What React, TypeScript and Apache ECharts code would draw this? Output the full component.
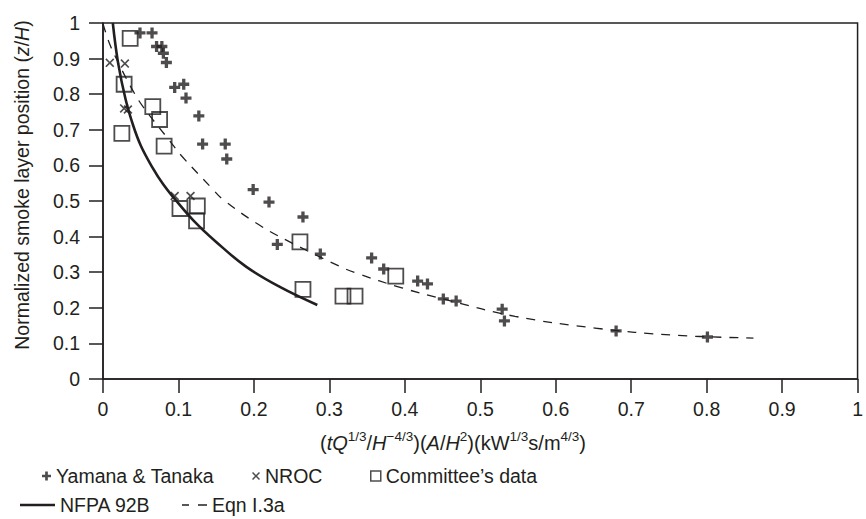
import React, { useEffect, useRef } from "react";
import * as echarts from "echarts";

const xTicks = [0, 0.1, 0.2, 0.3, 0.4, 0.5, 0.6, 0.7, 0.8, 0.9, 1];
const yTicks = [0, 0.1, 0.2, 0.3, 0.4, 0.5, 0.6, 0.7, 0.8, 0.9, 1];

const yamanaTanaka: [number, number][] = [
  [0.049, 0.972], [0.065, 0.972], [0.071, 0.934], [0.078, 0.934], [0.08, 0.915],
  [0.084, 0.889], [0.095, 0.819], [0.107, 0.828], [0.11, 0.789], [0.127, 0.739],
  [0.132, 0.66], [0.162, 0.66], [0.164, 0.618], [0.199, 0.532], [0.22, 0.497],
  [0.265, 0.455], [0.231, 0.378], [0.288, 0.351], [0.356, 0.34], [0.372, 0.309],
  [0.417, 0.275], [0.43, 0.267], [0.451, 0.225], [0.468, 0.219], [0.529, 0.196],
  [0.532, 0.163], [0.68, 0.135], [0.801, 0.118],
];

const nroc: [number, number][] = [
  [0.009, 0.888], [0.029, 0.886], [0.028, 0.76], [0.033, 0.757],
  [0.095, 0.514], [0.116, 0.514],
];

const committee: [number, number][] = [
  [0.036, 0.957], [0.028, 0.828], [0.025, 0.69], [0.066, 0.765], [0.075, 0.729],
  [0.081, 0.654], [0.102, 0.479], [0.125, 0.486], [0.124, 0.444], [0.261, 0.385],
  [0.265, 0.252], [0.318, 0.233], [0.334, 0.233], [0.388, 0.289],
];

const nfpa92B: [number, number][] = [
  [0.013, 1.0], [0.02, 0.888], [0.03, 0.785], [0.04, 0.712], [0.05, 0.656],
  [0.065, 0.596], [0.08, 0.546], [0.095, 0.506], [0.12, 0.445], [0.15, 0.385],
  [0.19, 0.315], [0.235, 0.258], [0.284, 0.208],
];

const eqnI3a: [number, number][] = [
  [0.0, 0.998], [0.009, 0.94], [0.02, 0.89], [0.037, 0.82], [0.053, 0.765],
  [0.088, 0.67], [0.104, 0.627], [0.146, 0.532], [0.158, 0.506], [0.203, 0.438],
  [0.243, 0.39], [0.313, 0.317], [0.335, 0.298], [0.396, 0.256], [0.458, 0.221],
  [0.546, 0.176], [0.652, 0.143], [0.757, 0.123], [0.862, 0.115],
];

const INK = "#231f20";
const FONT = "'Liberation Sans', Arial, Helvetica, sans-serif";

const plusPath = "path://M3.5,0H6.5V3.5H10V6.5H6.5V10H3.5V6.5H0V3.5H3.5Z";
const crossPath =
  "path://M0,1.3L1.3,0L5,3.7L8.7,0L10,1.3L6.3,5L10,8.7L8.7,10L5,6.3L1.3,10L0,8.7L3.7,5Z";
const solidIcon = "path://M0,0H35V2.6H0Z";
const dashIcon = "path://M0,0H7V1.4H0ZM16,0H25V1.4H16Z";

export default function App() {
  const ref = useRef<HTMLDivElement>(null);

  useEffect(() => {
    if (!ref.current) return;
    const chart = echarts.init(ref.current, undefined, { renderer: "svg" });

    const legendText = { color: INK, fontSize: 19.5, fontFamily: FONT };
    const mkLegend = (name: string, left: number, top: number, extra: any) => ({
      show: true,
      data: [name],
      left,
      top,
      padding: 0,
      orient: "horizontal",
      selectedMode: false,
      itemGap: 0,
      textStyle: legendText,
      ...extra,
    });

    const option: any = {
      animation: false,
      backgroundColor: "#ffffff",
      textStyle: { fontFamily: FONT },
      grid: {
        left: 103,
        right: 5,
        top: 23,
        bottom: 140,
        show: true,
        borderColor: INK,
        borderWidth: 1.5,
        backgroundColor: "transparent",
      },
      xAxis: {
        type: "value",
        min: xTicks[0],
        max: xTicks[xTicks.length - 1],
        interval: 0.1,
        splitLine: { show: false },
        axisLine: { show: true, lineStyle: { color: INK, width: 1.5 } },
        axisTick: { show: true, inside: false, length: 14, lineStyle: { color: INK, width: 1.5 } },
        axisLabel: {
          color: INK,
          fontSize: 19.5,
          fontFamily: FONT,
          margin: 20,
          formatter: (v: number) => String(Math.round(v * 10) / 10),
        },
      },
      yAxis: {
        type: "value",
        min: yTicks[0],
        max: yTicks[yTicks.length - 1],
        interval: 0.1,
        splitLine: { show: false },
        axisLine: { show: true, lineStyle: { color: INK, width: 1.5 } },
        axisTick: { show: true, inside: false, length: 14, lineStyle: { color: INK, width: 1.5 } },
        axisLabel: {
          color: INK,
          fontSize: 19.5,
          fontFamily: FONT,
          margin: 23,
          formatter: (v: number) => String(Math.round(v * 10) / 10),
        },
      },
      legend: [
        mkLegend("Yamana & Tanaka", 42, 466, { itemWidth: 9, itemHeight: 9, icon: plusPath }),
        mkLegend("NROC", 252, 466, { itemWidth: 8, itemHeight: 8, icon: crossPath }),
        mkLegend("Committee\u2019s data", 370, 466, {
          itemWidth: 10,
          itemHeight: 10,
          icon: "rect",
          itemStyle: { color: "transparent", borderColor: INK, borderWidth: 1.5 },
        }),
        mkLegend("NFPA 92B", 20, 495, {
          itemWidth: 35,
          itemHeight: 2.6,
          icon: solidIcon,
          itemStyle: { color: INK, borderWidth: 0 },
        }),
        mkLegend("Eqn I.3a", 182, 495, {
          itemWidth: 25,
          itemHeight: 1.4,
          icon: dashIcon,
          itemStyle: { color: INK, borderWidth: 0 },
        }),
      ],
      graphic: [
        {
          type: "text",
          x: 22,
          y: 185,
          rotation: Math.PI / 2,
          style: {
            text: "{n|Normalized smoke layer position (}{i|z}{n|/}{i|H}{n|)}",
            align: "center",
            verticalAlign: "middle",
            fill: INK,
            rich: {
              n: { fontSize: 19.5, fontFamily: FONT, fill: INK },
              i: { fontSize: 19.5, fontFamily: FONT, fontStyle: "italic", fill: INK },
            },
          },
        },
        {
          type: "text",
          x: 453,
          y: 441,
          style: {
            text:
              "{n|(}{i|tQ}{s|1/3}{n|/}{i|H}{s|\u22124/3}{n|)(}{i|A}{n|/}{i|H}{s|2}{n|)(kW}{s|1/3}{n|s/m}{s|4/3}{n|)}",
            align: "center",
            verticalAlign: "middle",
            fill: INK,
            rich: {
              n: { fontSize: 20, fontFamily: FONT, fill: INK, lineHeight: 23, verticalAlign: "bottom" },
              i: {
                fontSize: 20,
                fontFamily: FONT,
                fontStyle: "italic",
                fill: INK,
                lineHeight: 23,
                verticalAlign: "bottom",
              },
              s: { fontSize: 13.5, fontFamily: FONT, fill: INK, lineHeight: 23, verticalAlign: "top" },
            },
          },
        },
      ],
      series: [
        {
          name: "NFPA 92B",
          type: "line",
          data: nfpa92B,
          smooth: 0.4,
          symbol: "none",
          lineStyle: { color: INK, width: 2.6, type: "solid" },
          itemStyle: { color: INK },
          z: 2,
        },
        {
          name: "Eqn I.3a",
          type: "line",
          data: eqnI3a,
          smooth: 0.4,
          symbol: "none",
          lineStyle: { color: INK, width: 1.3, type: [9, 8] },
          itemStyle: { color: INK },
          z: 2,
        },
        {
          name: "Yamana & Tanaka",
          type: "scatter",
          data: yamanaTanaka,
          symbol: plusPath,
          symbolSize: 11,
          itemStyle: { color: INK },
          z: 3,
        },
        {
          name: "NROC",
          type: "scatter",
          data: nroc,
          symbol: crossPath,
          symbolSize: 9,
          itemStyle: { color: INK },
          z: 3,
        },
        {
          name: "Committee\u2019s data",
          type: "scatter",
          data: committee,
          symbol: "rect",
          symbolSize: 15,
          itemStyle: { color: "transparent", borderColor: INK, borderWidth: 1.8 },
          z: 3,
        },
      ],
    };

    chart.setOption(option);
    return () => chart.dispose();
  }, []);

  return <div ref={ref} style={{ width: 866, height: 519, position: "absolute", left: 0, top: 0 }} />;
}
